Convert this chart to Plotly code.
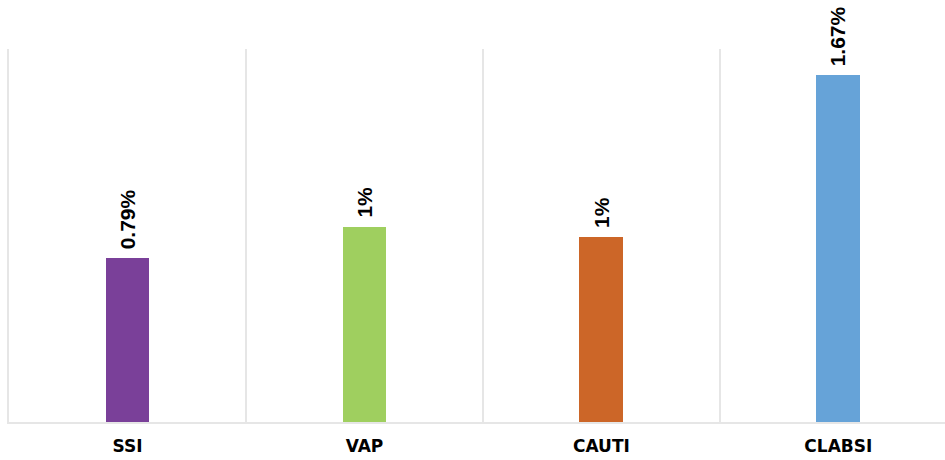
import plotly.graph_objects as go

# Infection categories and rates (%)
categories = ["SSI", "VAP", "CAUTI", "CLABSI"]
rates = [0.79, 0.94, 0.89, 1.67]
rate_labels = ["0.79%", "1%", "1%", "1.67%"]
bar_colors = ["#7a4099", "#9fcf5f", "#cc6628", "#66a3d8"]

grid_color = "#e6e6e6"

fig = go.Figure(
    go.Bar(
        x=categories,
        y=rates,
        width=0.185,
        marker=dict(color=bar_colors, line=dict(width=0)),
        hoverinfo="skip",
    )
)

# Rotated value labels sitting just above each bar
for cat, val, lab in zip(categories, rates, rate_labels):
    fig.add_annotation(
        x=cat,
        y=val,
        text=f"<b>{lab}</b>",
        textangle=-90,
        showarrow=False,
        xanchor="center",
        yanchor="bottom",
        yshift=7,
        font=dict(family="Arial, Liberation Sans", size=21, color="#000000"),
    )

fig.update_layout(
    width=945,
    height=460,
    margin=dict(l=9, r=0, t=49, b=38),
    paper_bgcolor="#ffffff",
    plot_bgcolor="#ffffff",
    showlegend=False,
    bargap=0,
    xaxis=dict(
        type="category",
        range=[-0.5, 3.45],
        tickson="boundaries",
        showgrid=True,
        gridcolor=grid_color,
        gridwidth=1.5,
        showline=True,
        linecolor=grid_color,
        linewidth=2,
        ticks="",
        tickfont=dict(family="DejaVu Sans", size=17, color="#000000", weight="bold"),
        ticklabelstandoff=8,
        fixedrange=True,
    ),
    yaxis=dict(
        range=[0, 1.795],
        showgrid=False,
        zeroline=False,
        showticklabels=False,
        ticks="",
        showline=True,
        linecolor=grid_color,
        linewidth=2,
        fixedrange=True,
    ),
)

fig.write_html("out.html", config={"displayModeBar": False})
